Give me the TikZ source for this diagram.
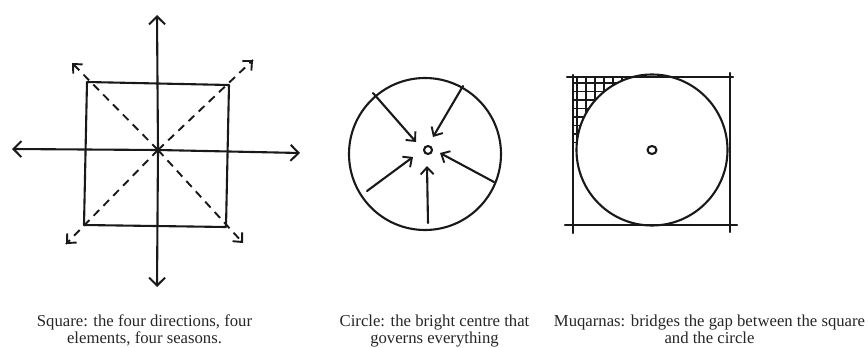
\documentclass[tikz,border=0pt]{standalone}
\usepackage{fontspec}
\setmainfont{Liberation Serif}
\usetikzlibrary{arrows.meta,calc,shapes.geometric}
\tikzset{
  pen/.style={line width=2.1pt, line cap=round, line join=round, draw=black!90},
  thin pen/.style={line width=1.4pt, line cap=round, draw=black!90},
  barb/.style={-{Straight Barb[length=8pt,width=16pt,line width=2pt]}},
  sbarb/.style={-{Straight Barb[length=7pt,width=13pt,line width=1.9pt]}},
  dashline/.style={line width=1.9pt, dash pattern=on 8pt off 6pt, draw=black!90},
  caption/.style={font=\fontsize{16.7}{17}\selectfont, align=center, inner sep=0pt, anchor=north, text=black!85}
}
\begin{document}
\begin{tikzpicture}[x=1pt,y=-1pt]
\useasboundingbox (0,0) rectangle (868,348);
% ---------- Square diagram ----------
\coordinate (C) at (158,150);
\coordinate (N) at (157,15);
\coordinate (S) at (157,287);
\coordinate (W) at (12,149);
\coordinate (E) at (300,153);
\coordinate (sqTL) at (87,82);
\coordinate (sqTR) at (229,85);
\coordinate (sqBR) at (226,227);
\coordinate (sqBL) at (84,225);
\coordinate (dTL) at (72,63);
\coordinate (dTR) at (253,60);
\coordinate (dBL) at (66,244);
\coordinate (dBR) at (243,243);
\draw[pen] (sqTL) -- (sqTR) -- (sqBR) -- (sqBL) -- cycle;
\draw[pen,barb] (C) -- (N);
\draw[pen,barb] (C) -- (S);
\draw[pen,barb] (C) -- (W);
\draw[pen,barb] (C) -- (E);
\draw[dashline] (C) -- (dTL);
\draw[dashline] (C) -- (dTR);
\draw[dashline] (C) -- (dBL);
\draw[dashline] (C) -- (dBR);
\draw[pen,sbarb] ($(dTL)!0.01!(C)$) -- (dTL);
\draw[pen,sbarb] ($(dTR)!0.01!(C)$) -- (dTR);
\draw[pen,sbarb] ($(dBL)!0.01!(C)$) -- (dBL);
\draw[pen,sbarb] ($(dBR)!0.01!(C)$) -- (dBR);
% ---------- Circle diagram ----------
\node[pen, circle, minimum size=152pt, inner sep=0pt] (bigc) at (425,154) {};
\node[pen, circle, minimum size=8pt, inner sep=0pt] (eye) at (428,150) {};
\coordinate (a1s) at (373,93);  \coordinate (a1e) at (416,142);
\coordinate (a2s) at (463,86);  \coordinate (a2e) at (433,137);
\coordinate (a3s) at (367,191); \coordinate (a3e) at (413,157);
\coordinate (a4s) at (494,182); \coordinate (a4e) at (440,153);
\coordinate (a5s) at (428,223); \coordinate (a5e) at (427,166);
\draw[pen,sbarb] (a1s) -- (a1e);
\draw[pen,sbarb] (a2s) -- (a2e);
\draw[pen,sbarb] (a3s) -- (a3e);
\draw[pen,sbarb] (a4s) -- (a4e);
\draw[pen,sbarb] (a5s) -- (a5e);
% ---------- Muqarnas diagram ----------
\coordinate (mc) at (652,150);
\begin{scope}
  \clip (573,77) rectangle (652,151);
  \begin{scope}[even odd rule]
  \clip (560,60) rectangle (750,240) (mc) circle (75.5);
  \foreach \xx in {577,586,595,604,613,622,631,640}
    \draw[thin pen] (\xx,70) -- (\xx,150);
  \foreach \yy in {83,91.5,100,108.5,117,125.5,134,142.5}
    \draw[thin pen] (570,\yy) -- (650,\yy);
  \end{scope}
\end{scope}
\node[pen, circle, minimum size=151pt, inner sep=0pt] (mcirc) at (mc) {};
\node[pen, ellipse, minimum width=9pt, minimum height=8pt, inner sep=0pt] (meye) at (652,150) {};
\draw[pen] (567,77) -- (733,77);
\draw[pen] (565,225) -- (737,225);
\draw[pen] (573,75) -- (573,233);
\draw[pen] (730,73) -- (730,232);
% ---------- Captions ----------
\node[caption] (cap1) at (144.5,314.6) {Square: the four directions, four\\elements, four seasons.};
\node[caption] (cap2) at (434.5,314.6) {Circle: the bright centre that\\governs everything};
\node[caption] (cap3) at (709.5,314.6) {Muqarnas: bridges the gap between the square\\and the circle};
\end{tikzpicture}
\end{document}
